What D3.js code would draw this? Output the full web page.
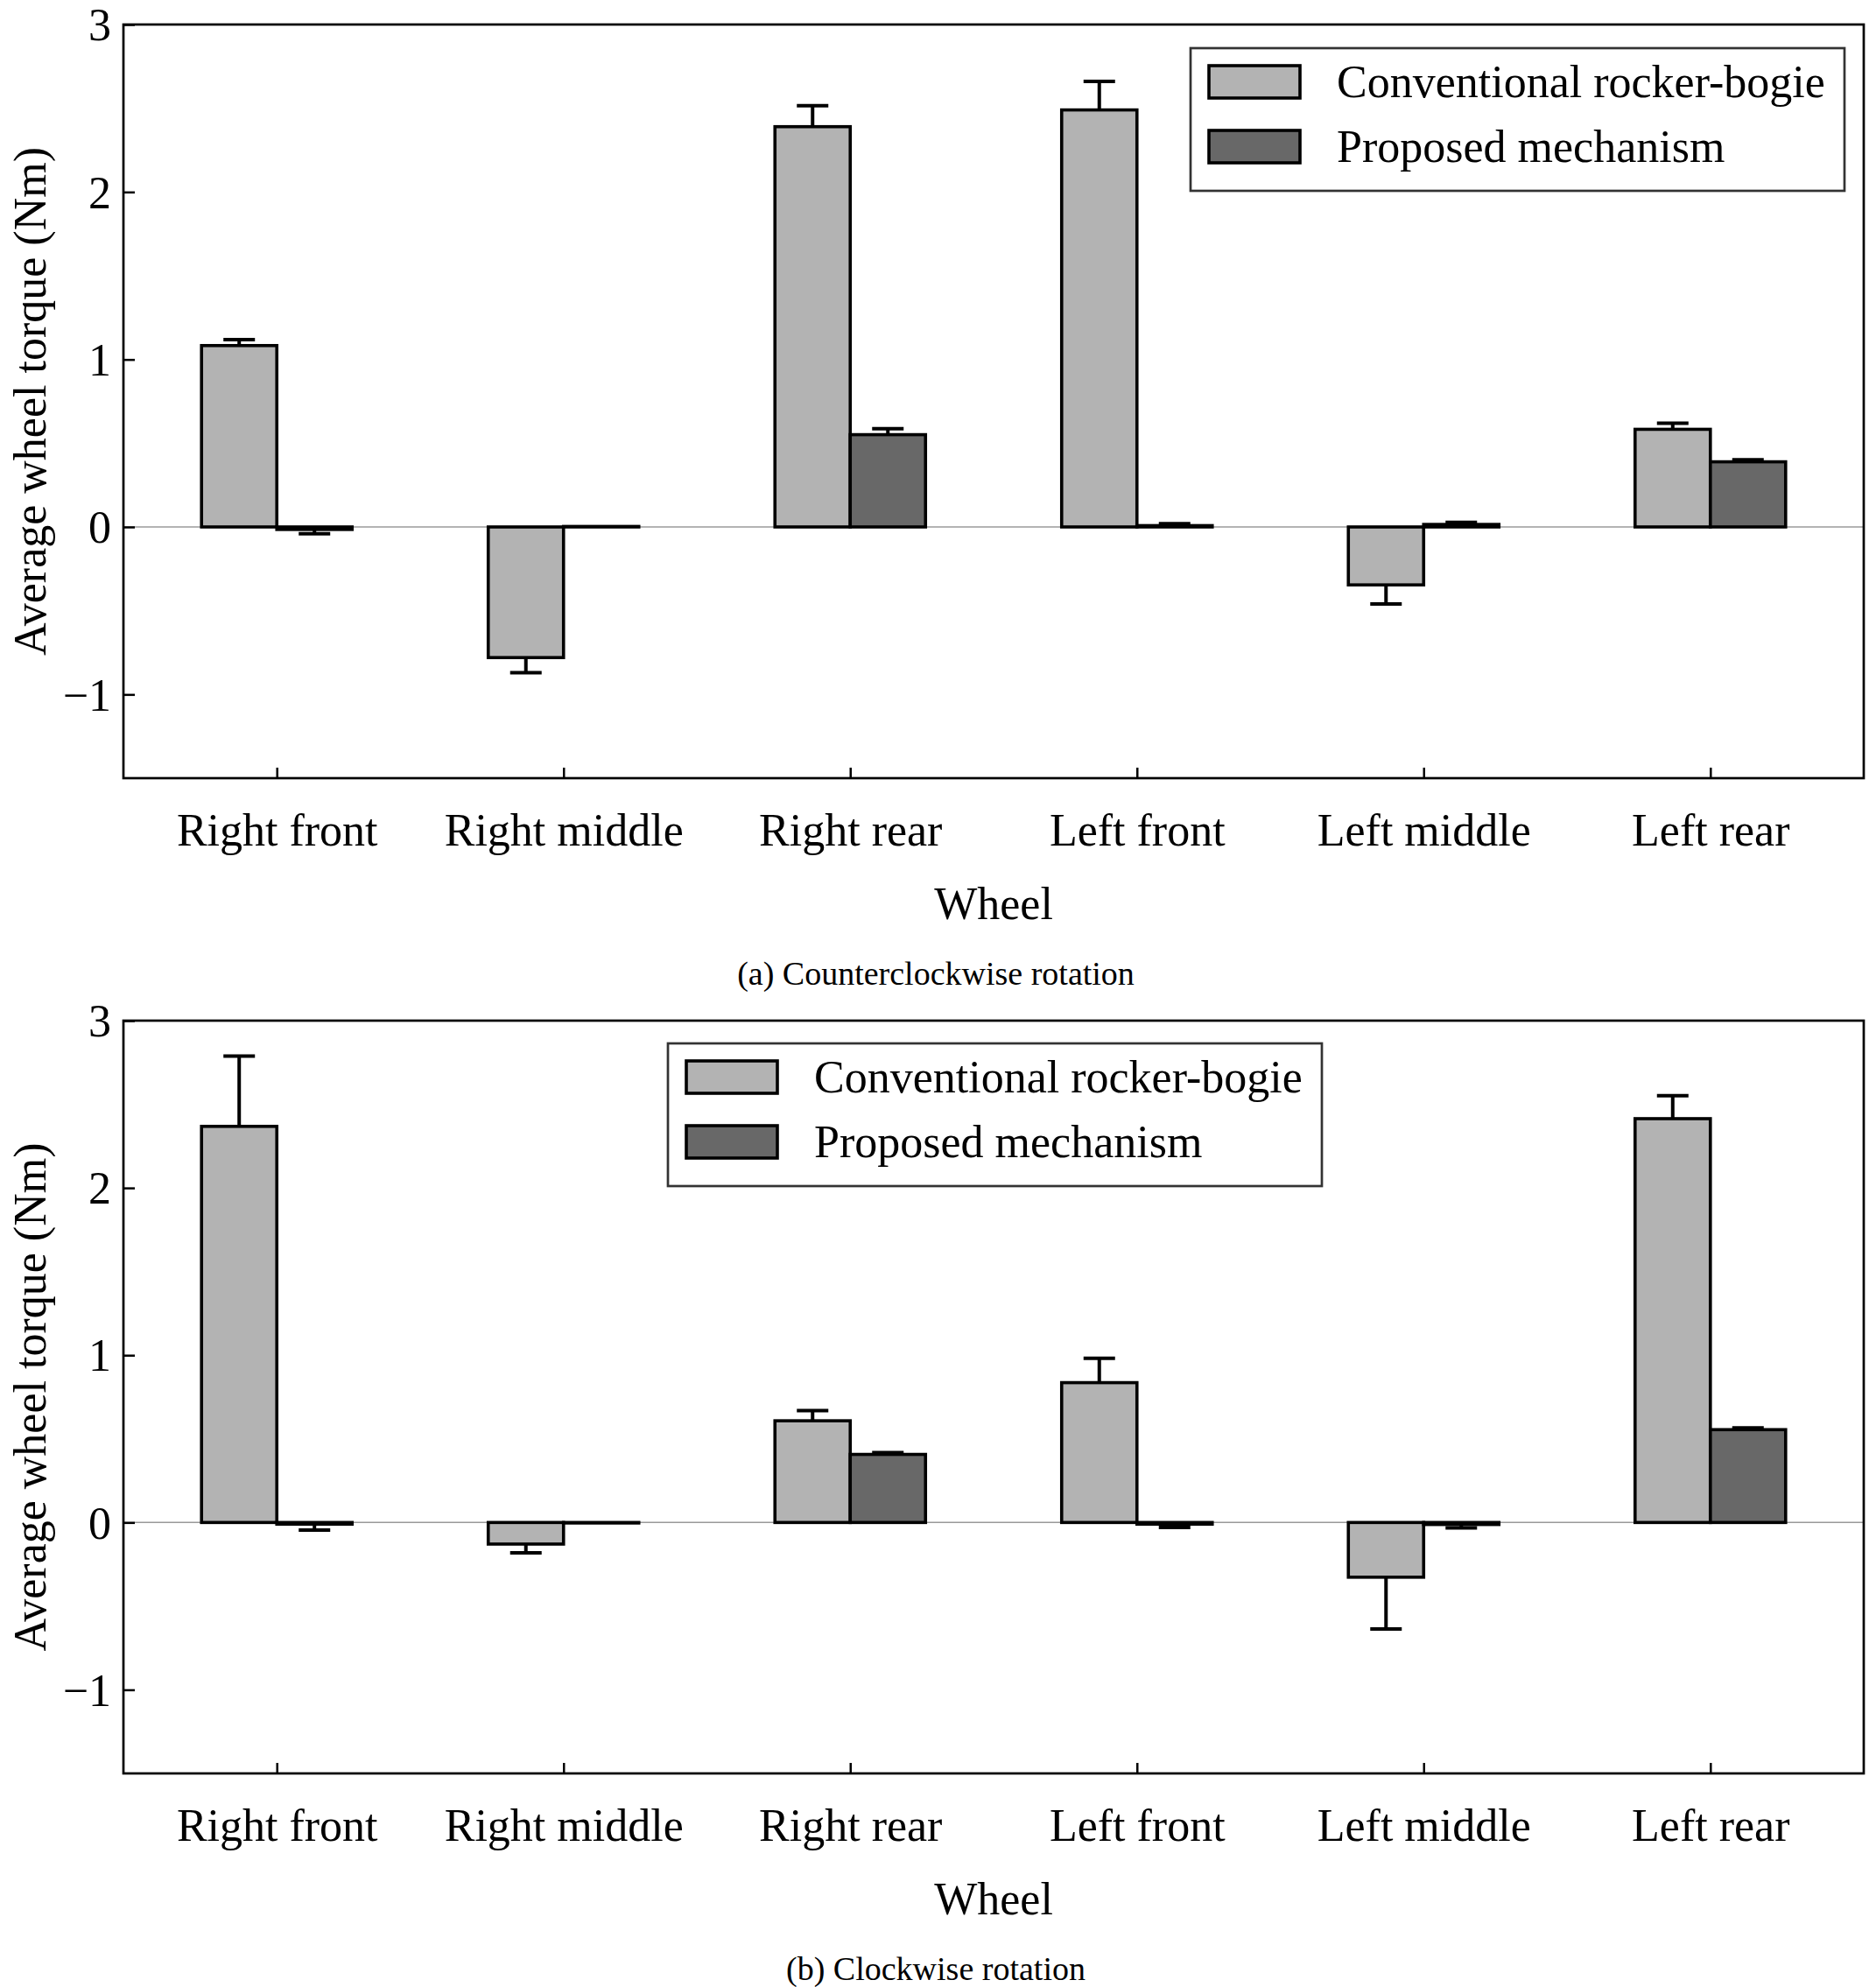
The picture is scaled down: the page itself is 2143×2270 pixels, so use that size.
<!DOCTYPE html>
<html>
<head>
<meta charset="utf-8">
<script src="https://cdn.jsdelivr.net/npm/d3@7"></script>
<style>
  html, body { margin: 0; padding: 0; background: #fff; }
  svg { display: block; }
  text { font-family: "Liberation Serif", "Times New Roman", serif; fill: #000; }
</style>
</head>
<body>
<script>
// ---------- data ----------
const categories = ["Right front", "Right middle", "Right rear", "Left front", "Left middle", "Left rear"];
const seriesNames = ["Conventional rocker-bogie", "Proposed mechanism"];
const yTickValues = [-1, 0, 1, 2, 3];
const yDomain = [-1.5, 3];

// (a) Counterclockwise rotation
const convA    = [1.083, -0.78, 2.39, 2.49, -0.346, 0.583];
const convAErr = [0.035, 0.09, 0.125, 0.17, 0.114, 0.036];
const propA    = [-0.015, 0.003, 0.551, 0.008, 0.015, 0.389];
const propAErr = [0.025, 0, 0.036, 0.012, 0.012, 0.012];

// (b) Clockwise rotation
const convB    = [2.368, -0.129, 0.608, 0.836, -0.327, 2.414];
const convBErr = [0.42, 0.053, 0.061, 0.145, 0.31, 0.137];
const propB    = [-0.01, -0.003, 0.407, -0.01, -0.012, 0.555];
const propBErr = [0.035, 0, 0.011, 0.02, 0.02, 0.011];

const captions = ["(a) Counterclockwise rotation", "(b) Clockwise rotation"];
const xTitle = "Wheel";
const yTitle = "Average wheel torque (Nm)";

// ---------- layout ----------
const W = 2143, H = 2270;
const colors = ["#b3b3b3", "#686868"];
const FS = 52;

const svg = d3.select("body").append("svg").attr("width", W).attr("height", H);

function fmt(d) { return d < 0 ? "\u2212" + Math.abs(d) : String(d); }

function panel(cfg) {
  const { top, bottom, left, right, conv, convErr, prop, propErr, legX, legY, caption, captionY } = cfg;
  const g = svg.append("g");
  const x = d3.scalePoint().domain(categories).range([left, right]).padding(0.535);
  const y = d3.scaleLinear().domain(yDomain).range([bottom, top]);
  const bw = 86;

  // zero line
  g.append("line")
    .attr("x1", left).attr("x2", right)
    .attr("y1", y(0)).attr("y2", y(0))
    .attr("stroke", "#9a9a9a").attr("stroke-width", 1.5);

  const series = [
    { vals: conv, errs: convErr, off: -bw, color: colors[0] },
    { vals: prop, errs: propErr, off: 0, color: colors[1] }
  ];

  series.forEach(s => {
    const data = categories.map((c, i) => ({ c, v: s.vals[i], e: s.errs[i] }));
    // bars
    g.append("g").selectAll("rect").data(data).join("rect")
      .attr("x", d => x(d.c) + s.off)
      .attr("width", bw)
      .attr("y", d => y(Math.max(0, d.v)))
      .attr("height", d => Math.abs(y(d.v) - y(0)))
      .attr("fill", s.color)
      .attr("stroke", "#000").attr("stroke-width", 3.6);
    // error bars (one-sided, outward)
    const eg = g.append("g").attr("stroke", "#000").attr("stroke-width", 4);
    data.filter(d => d.e > 0).forEach(d => {
      const cx = x(d.c) + s.off + bw / 2;
      const sgn = d.v < 0 ? -1 : 1;
      const y1 = y(d.v), y2 = y(d.v + sgn * d.e);
      eg.append("line").attr("x1", cx).attr("x2", cx).attr("y1", y1).attr("y2", y2);
      eg.append("line").attr("x1", cx - 18).attr("x2", cx + 18).attr("y1", y2).attr("y2", y2);
    });
  });

  // y axis
  const ya = g.append("g").attr("transform", `translate(${left},0)`)
    .call(d3.axisLeft(y).tickValues(yTickValues).tickSize(-13).tickPadding(14).tickFormat(fmt));
  ya.select(".domain").remove();
  ya.selectAll(".tick line").attr("stroke", "#000").attr("stroke-width", 2.5);
  ya.selectAll(".tick text").attr("font-size", FS).attr("font-family", "Liberation Serif").attr("dy", "0.34em");

  // x axis
  const xa = g.append("g").attr("transform", `translate(0,${bottom})`)
    .call(d3.axisBottom(x).tickSize(-12).tickPadding(77));
  xa.select(".domain").remove();
  xa.selectAll(".tick line").attr("stroke", "#000").attr("stroke-width", 2.5);
  xa.selectAll(".tick text").attr("font-size", FS).attr("font-family", "Liberation Serif").attr("dy", 0);

  // frame
  g.append("rect").attr("x", left).attr("y", top)
    .attr("width", right - left).attr("height", bottom - top)
    .attr("fill", "none").attr("stroke", "#000").attr("stroke-width", 2.7);

  // axis titles
  g.append("text").attr("x", (left + right) / 2).attr("y", bottom + 161)
    .attr("text-anchor", "middle").attr("font-size", FS).text(xTitle);
  g.append("text")
    .attr("transform", `translate(52,${(top + bottom) / 2}) rotate(-90)`)
    .attr("text-anchor", "middle").attr("font-size", FS).text(yTitle);

  // legend
  const lg = g.append("g").attr("transform", `translate(${legX},${legY})`);
  lg.append("rect").attr("x", 0).attr("y", 0).attr("width", 747).attr("height", 163)
    .attr("fill", "#fff").attr("stroke", "#333").attr("stroke-width", 2.7);
  seriesNames.forEach((n, i) => {
    lg.append("rect").attr("x", 21).attr("y", 20 + i * 74).attr("width", 104).attr("height", 37)
      .attr("fill", colors[i]).attr("stroke", "#000").attr("stroke-width", 3.6);
    lg.append("text").attr("x", 167).attr("y", 56 + i * 74)
      .attr("font-size", FS).text(n);
  });

  // caption
  svg.append("text").attr("x", 1069).attr("y", captionY)
    .attr("text-anchor", "middle").attr("font-size", 38).text(caption);
}

panel({ top: 28, bottom: 889, left: 141, right: 2129,
        conv: convA, convErr: convAErr, prop: propA, propErr: propAErr,
        legX: 1360, legY: 55, caption: captions[0], captionY: 1125 });
panel({ top: 1166, bottom: 2026, left: 141, right: 2129,
        conv: convB, convErr: convBErr, prop: propB, propErr: propBErr,
        legX: 763, legY: 1192, caption: captions[1], captionY: 2262 });
</script>
</body>
</html>
